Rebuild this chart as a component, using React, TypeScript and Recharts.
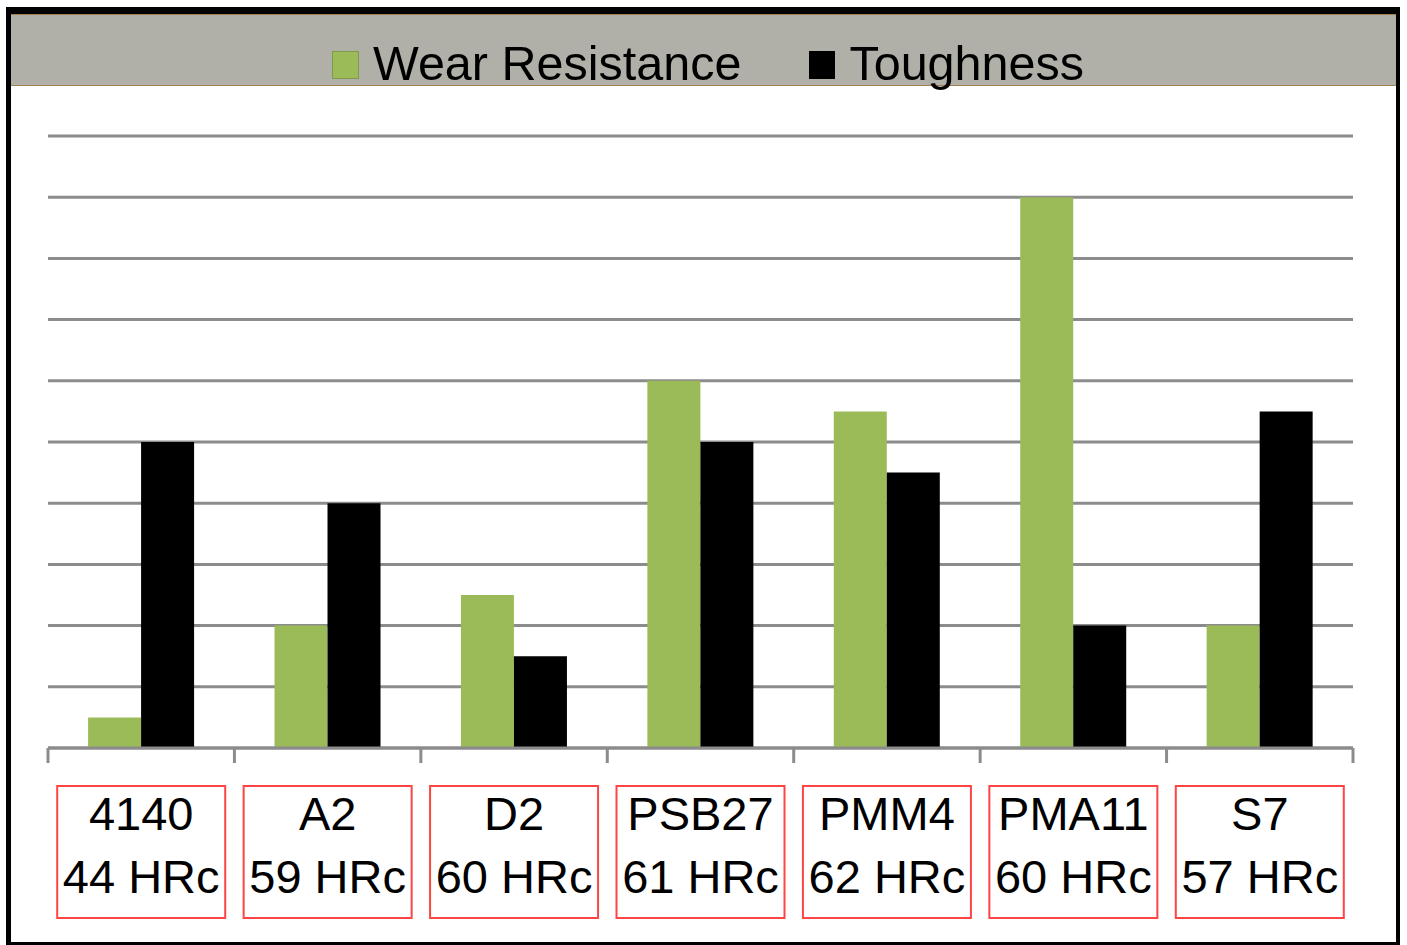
import React from 'react';
import { BarChart, Bar, XAxis, YAxis, CartesianGrid } from 'recharts';

// steel grades and their rated hardness
const categories = ['4140', 'A2', 'D2', 'PSB27', 'PMM4', 'PMA11', 'S7'];
const hardness = [44, 59, 60, 61, 62, 60, 57];

// relative scores (0..10)
const wearResistance = [0.5, 2, 2.5, 6, 5.5, 9, 2];
const toughness = [5, 4, 1.5, 5, 4.5, 2, 5.5];

const yTicks = [0, 1, 2, 3, 4, 5, 6, 7, 8, 9, 10];

const seriesNames = ['Wear Resistance', 'Toughness'];
const seriesColors = ['#9bbb59', '#000000'];

const data = categories.map((name, i) => ({
  name,
  hrc: hardness[i],
  wear: wearResistance[i],
  tough: toughness[i],
}));

const W = 1407;
const H = 945;
const X_AXIS_H = 30;
const margin = { top: 136, right: 54, bottom: 197 - X_AXIS_H, left: 48 };
const plotW = W - margin.left - margin.right;
const FONT = '"Liberation Sans", Arial, sans-serif';
const AXIS_GRAY = '#8c8c8c';

const CategoryTick = (props: any) => {
  const { x, y, payload, index } = props;
  const band = plotW / categories.length;
  const left = x - band / 2;
  const isLast = index === categories.length - 1;
  return (
    <g>
      <line x1={left} x2={left} y1={y} y2={y + 15} stroke={AXIS_GRAY} strokeWidth={3} />
      {isLast && (
        <line x1={x + band / 2} x2={x + band / 2} y1={y} y2={y + 15} stroke={AXIS_GRAY} strokeWidth={3} />
      )}
      <rect x={x - 84} y={y + 38} width={168} height={132} fill="none" stroke="#ff4444" strokeWidth={2} />
      <text x={x} y={y + 82} textAnchor="middle" fontSize={47} fontFamily={FONT} fill="#000">
        {payload.value}
      </text>
      <text x={x} y={y + 145} textAnchor="middle" fontSize={47} fontFamily={FONT} fill="#000">
        {`${hardness[index]} HRc`}
      </text>
    </g>
  );
};

export default function App() {
  return (
    <div style={{ position: 'absolute', left: 0, top: 0, width: W, height: H, background: '#fff', fontFamily: FONT }}>
      {/* legend band */}
      <div
        style={{
          position: 'absolute',
          left: 11,
          top: 14,
          width: 1386,
          height: 70,
          background: '#b0b0a8',
          borderTop: '1px solid #a08050',
          borderBottom: '1px solid #a08050',
        }}
      />
      <div
        style={{
          position: 'absolute',
          left: 11,
          top: 39,
          width: 1386,
          display: 'flex',
          justifyContent: 'center',
          paddingLeft: 8,
          boxSizing: 'border-box',
          fontSize: 48.5,
          lineHeight: 1,
          color: '#000',
        }}
      >
        {seriesNames.map((s, i) => (
          <div key={s} style={{ display: 'flex', alignItems: 'center', marginLeft: i > 0 ? 68 : 0 }}>
            <span
              style={{
                display: 'inline-block',
                width: i === 0 ? 27 : 26,
                height: 28,
                background: seriesColors[i],
                border: i === 0 ? '1px solid #7f9a48' : 'none',
                boxSizing: 'border-box',
                position: 'relative',
                top: 2,
                marginRight: i === 0 ? 14 : 14,
              }}
            />
            <span>{s}</span>
          </div>
        ))}
      </div>

      <BarChart
        width={W}
        height={H}
        data={data}
        margin={margin}
        barGap={0}
        barCategoryGap="21.5%"
        style={{ position: 'absolute', left: 0, top: 0 }}
      >
        <CartesianGrid horizontal vertical={false} stroke={AXIS_GRAY} strokeWidth={3} />
        <YAxis hide domain={[0, 10]} ticks={yTicks} />
        <XAxis
          dataKey="name"
          height={X_AXIS_H}
          interval={0}
          tickSize={0}
          tickMargin={0}
          tickLine={false}
          axisLine={{ stroke: AXIS_GRAY, strokeWidth: 3 }}
          tick={<CategoryTick />}
        />
        <Bar dataKey="wear" name={seriesNames[0]} fill={seriesColors[0]} isAnimationActive={false} />
        <Bar dataKey="tough" name={seriesNames[1]} fill={seriesColors[1]} isAnimationActive={false} />
      </BarChart>

      {/* outer frame */}
      <div
        style={{
          position: 'absolute',
          left: 6,
          top: 7,
          width: 1394,
          height: 938,
          boxSizing: 'border-box',
          borderStyle: 'solid',
          borderColor: '#000',
          borderWidth: '7px 4px 3px 5px',
          pointerEvents: 'none',
        }}
      />
    </div>
  );
}
